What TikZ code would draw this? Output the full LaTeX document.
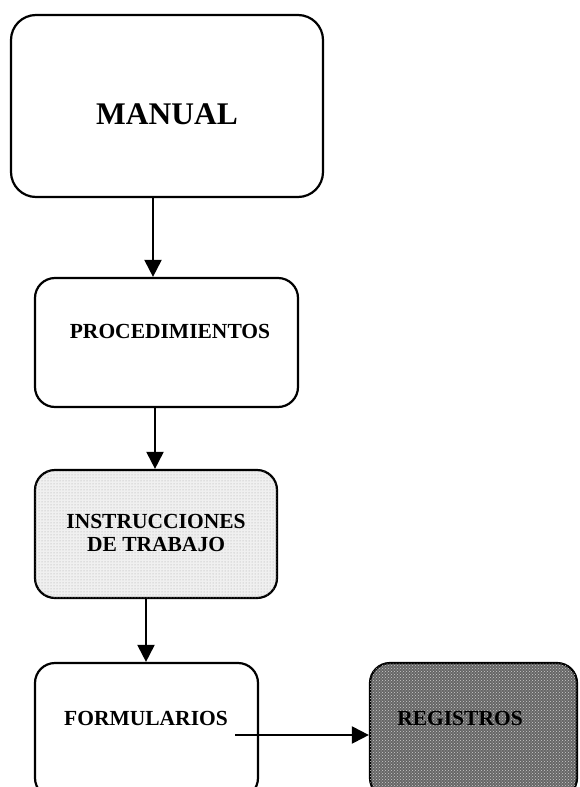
\documentclass[tikz,border=0pt]{standalone}
\usepackage{fontspec}
\setmainfont{Liberation Serif}
\usetikzlibrary{arrows.meta,patterns}
\begin{document}
\begin{tikzpicture}[x=1pt,y=-1pt,
  box/.style={draw, line width=2.2pt, rounded corners=20pt, inner sep=0pt, fill=white},
  lbl/.style={font=\bfseries\fontsize{21.5}{23}\selectfont, align=center, inner sep=0pt},
  arr/.style={line width=2pt, -{Triangle[length=17pt,width=17pt]}}]
\clip (0,0) rectangle (580,787);
\fill[white] (0,0) rectangle (580,787);
% boxes
\node[box, rounded corners=25pt, minimum width=312pt, minimum height=182pt] (manual) at (167,106) {};
\node[box, minimum width=263pt, minimum height=129pt] (proc) at (166.5,342.5) {};
\node[box, fill=gray!12, postaction={pattern=dots, pattern color=gray!70}, minimum width=242pt, minimum height=128pt] (instr) at (156,534) {};
\node[box, minimum width=223pt, minimum height=135pt] (form) at (146.5,730.5) {};
\node[box, fill=black!60, postaction={pattern=crosshatch dots, pattern color=white!80!black}, minimum width=207pt, minimum height=135pt] (reg) at (473.5,730.5) {};
% texts
\node[lbl, font=\bfseries\fontsize{31.5}{33}\selectfont] (tm) at (167,114) {MANUAL};
\node[lbl] (tp) at (170,331) {PROCEDIMIENTOS};
\node[lbl] (ti) at (156,533) {INSTRUCCIONES\\DE TRABAJO};
\node[lbl] (tf) at (146,718) {FORMULARIOS};
\node[lbl] (tr) at (460,718) {REGISTROS};
% connectors
\coordinate (a1) at (153,0);
\coordinate (a2) at (155,0);
\coordinate (a3) at (146,0);
\coordinate (c1) at (235,735);
\draw[arr] (manual.south -| a1) -- (proc.north -| a1);
\draw[arr] (proc.south -| a2) -- (instr.north -| a2);
\draw[arr] (instr.south -| a3) -- (form.north -| a3);
\draw[arr] (c1) -- (reg.west |- c1);
\end{tikzpicture}
\end{document}
